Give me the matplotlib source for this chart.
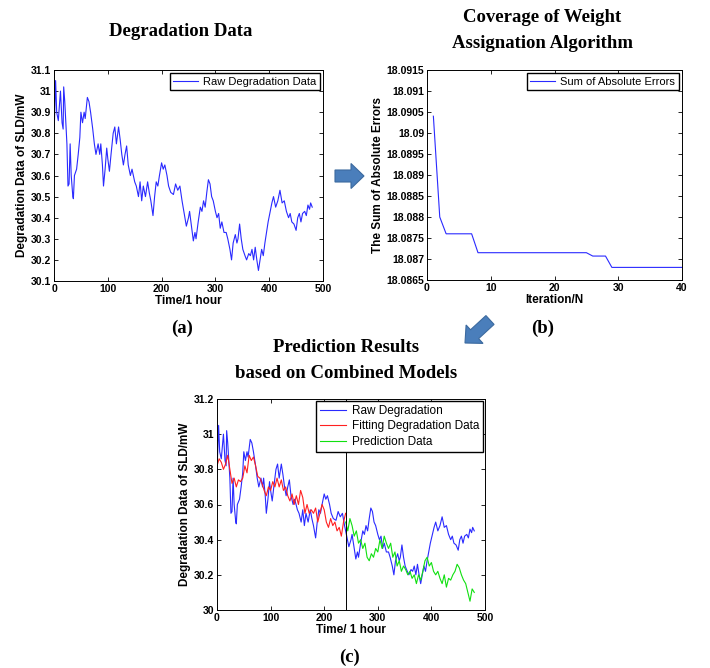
import numpy as np
import matplotlib
matplotlib.use("Agg")
import matplotlib.pyplot as plt
from matplotlib.patches import FancyArrow
from matplotlib.ticker import FuncFormatter

# raw SLD degradation, hours / mW
raw_hours = [0, 3, 5, 8, 12, 15, 17, 18, 20, 24,
             26, 28, 30, 32, 35, 36, 38, 42, 45, 48,
             50, 53, 56, 58, 62, 65, 68, 72, 75, 78,
             82, 85, 87, 90, 92, 95, 98, 100, 103, 106,
             110, 113, 116, 120, 123, 126, 129, 132, 135, 138,
             142, 145, 150, 153, 157, 160, 163, 166, 170, 174,
             177, 180, 184, 187, 190, 193, 196, 200, 203, 206,
             210, 213, 217, 222, 226, 230, 234, 238, 242, 246,
             250, 252, 256, 259, 262, 264, 268, 272, 275, 278,
             281, 284, 287, 290, 293, 296, 300, 303, 306, 309,
             312, 316, 320, 323, 327, 330, 333, 337, 340, 342,
             345, 348, 351, 355, 358, 362, 365, 368, 371, 374,
             377, 380, 383, 386, 389, 392, 395, 398, 402, 405,
             408, 412, 416, 420, 424, 428, 432, 436, 439, 442,
             446, 450, 453, 456, 459, 462, 466, 469, 472, 475,
             477, 480]
raw_power = [30.78, 31.05, 30.90, 30.86, 31.00, 30.85, 30.82, 31.02, 30.95, 30.75,
             30.55, 30.56, 30.75, 30.60, 30.50, 30.49, 30.60, 30.63, 30.70, 30.78,
             30.90, 30.85, 30.90, 30.87, 30.97, 30.95, 30.90, 30.82, 30.75, 30.70,
             30.75, 30.70, 30.75, 30.65, 30.55, 30.63, 30.73, 30.68, 30.62, 30.70,
             30.80, 30.83, 30.75, 30.83, 30.77, 30.70, 30.65, 30.70, 30.74, 30.65,
             30.60, 30.63, 30.57, 30.55, 30.50, 30.57, 30.48, 30.55, 30.50, 30.57,
             30.52, 30.48, 30.41, 30.50, 30.57, 30.55, 30.60, 30.66, 30.63, 30.65,
             30.60, 30.55, 30.52, 30.51, 30.56, 30.53, 30.55, 30.48, 30.42, 30.36,
             30.40, 30.43, 30.35, 30.29, 30.33, 30.30, 30.38, 30.45, 30.43, 30.48,
             30.45, 30.52, 30.58, 30.56, 30.50, 30.48, 30.43, 30.40, 30.42, 30.35,
             30.38, 30.33, 30.33, 30.30, 30.25, 30.20, 30.28, 30.32, 30.28, 30.30,
             30.37, 30.30, 30.25, 30.22, 30.20, 30.23, 30.22, 30.25, 30.20, 30.26,
             30.20, 30.15, 30.20, 30.25, 30.22, 30.28, 30.33, 30.38, 30.43, 30.47,
             30.50, 30.45, 30.48, 30.53, 30.47, 30.48, 30.43, 30.40, 30.42, 30.38,
             30.37, 30.34, 30.40, 30.42, 30.38, 30.42, 30.43, 30.41, 30.46, 30.44,
             30.47, 30.45]

# fitted data, every 4 h from 0 h
fit_power = [30.82, 30.86, 30.84, 30.80, 30.83, 30.88, 30.80, 30.72, 30.75, 30.70,
             30.74, 30.73, 30.75, 30.82, 30.78, 30.88, 30.85, 30.87, 30.82, 30.76,
             30.75, 30.72, 30.68, 30.65, 30.70, 30.68, 30.73, 30.70, 30.75, 30.70,
             30.74, 30.68, 30.70, 30.65, 30.62, 30.66, 30.60, 30.65, 30.60, 30.68,
             30.64, 30.55, 30.60, 30.55, 30.57, 30.55, 30.58, 30.50, 30.55, 30.60,
             30.57, 30.50, 30.47, 30.52, 30.48, 30.50, 30.45, 30.47, 30.42, 30.50,
             30.55]
# prediction, every 4 h from 240 h
pred_power = [30.50, 30.45, 30.52, 30.48, 30.42, 30.45, 30.38, 30.40, 30.35, 30.38,
              30.30, 30.28, 30.32, 30.30, 30.35, 30.33, 30.40, 30.35, 30.42, 30.38,
              30.35, 30.38, 30.30, 30.33, 30.25, 30.28, 30.22, 30.25, 30.23, 30.20,
              30.22, 30.18, 30.20, 30.15, 30.20, 30.17, 30.22, 30.28, 30.30, 30.25,
              30.27, 30.22, 30.20, 30.22, 30.18, 30.15, 30.20, 30.13, 30.18, 30.17,
              30.20, 30.22, 30.26, 30.24, 30.20, 30.17, 30.15, 30.10, 30.05, 30.12,
              30.10]
split_hour = 240

iterations = list(range(1, 41))
sae = [18.0904, 18.0880, 18.0876, 18.0876, 18.0876, 18.0876, 18.0876, 18.08715,
       18.08715, 18.08715, 18.08715, 18.08715, 18.08715, 18.08715, 18.08715, 18.08715,
       18.08715, 18.08715, 18.08715, 18.08715, 18.08715, 18.08715, 18.08715, 18.08715,
       18.08715, 18.08707, 18.08707, 18.08707, 18.0868, 18.0868, 18.0868, 18.0868,
       18.0868, 18.0868, 18.0868, 18.0868, 18.0868, 18.0868, 18.0868, 18.0868]

fit_hours = 4 * np.arange(len(fit_power))
pred_hours = split_hour + 4 * np.arange(len(pred_power))

plt.rcParams['font.family'] = ['Liberation Sans', 'DejaVu Sans']
W, H = 710, 668
fig = plt.figure(figsize=(W / 100, H / 100), dpi=100)

def px_axes(x0, y0, x1, y1):
    return fig.add_axes([x0 / W, 1 - y1 / H, (x1 - x0) / W, (y1 - y0) / H])

def style(ax, xlabel, ylabel):
    ax.tick_params(direction='in', top=True, right=True, length=3, width=0.6,
                   labelsize=7.5, pad=2)
    for lbl in ax.get_xticklabels() + ax.get_yticklabels():
        lbl.set_fontweight('bold')
    for s in ax.spines.values():
        s.set_linewidth(0.7)
    ax.set_xlabel(xlabel, fontsize=8.5, fontweight='bold', labelpad=1)
    ax.set_ylabel(ylabel, fontsize=8.5, fontweight='bold', labelpad=2)

fmt = FuncFormatter(lambda v, p: '%g' % round(v, 6))
blue = '#2a2aff'
leg_kw = dict(loc='upper right', fancybox=False, edgecolor='black', framealpha=1,
              handlelength=2.2, borderpad=0.3, handletextpad=0.5)

# (a)
ax1 = px_axes(54, 70, 323, 281)
ax1.plot(raw_hours, raw_power, color=blue, lw=0.8, label='Raw Degradation Data')
ax1.set_xlim(0, 500)
ax1.set_ylim(30.1, 31.1)
ax1.set_yticks(np.arange(30.1, 31.15, 0.1))
ax1.yaxis.set_major_formatter(fmt)
style(ax1, 'Time/1 hour', 'Degradation Data of SLD/mW')
ax1.legend(fontsize=8, borderaxespad=0.3, **leg_kw)

# (b)
ax2 = px_axes(427, 70, 682, 280)
ax2.plot(iterations, sae, color=blue, lw=0.8, label='Sum of Absolute Errors')
ax2.set_xlim(0, 40)
ax2.set_xticks([0, 10, 20, 30, 40])
ax2.set_ylim(18.0865, 18.0915)
ax2.set_yticks(np.arange(18.0865, 18.09151, 0.0005))
ax2.yaxis.set_major_formatter(fmt)
style(ax2, 'Iteration/N', 'The Sum of Absolute Errors')
ax2.legend(fontsize=8, borderaxespad=0.3, **leg_kw)

# (c)
ax3 = px_axes(217, 399, 485, 610)
ax3.plot(raw_hours, raw_power, color=blue, lw=0.8, label='Raw Degradation')
ax3.plot(fit_hours, fit_power, color='#ff2020', lw=0.8, label='Fitting Degradation Data')
ax3.plot(pred_hours, pred_power, color='#10e010', lw=0.8, label='Prediction Data')
ax3.axvline(split_hour, color='black', lw=0.7)
ax3.set_xlim(0, 500)
ax3.set_ylim(30, 31.2)
ax3.set_yticks(np.arange(30, 31.25, 0.2))
ax3.yaxis.set_major_formatter(fmt)
style(ax3, 'Time/ 1 hour', 'Degradation Data of SLD/mW')
ax3.legend(fontsize=8.5, borderaxespad=0.2, labelspacing=0.3, **leg_kw)

# titles and panel letters
serif = dict(family='Liberation Serif', fontweight='bold', ha='center', va='center')
fig.text(181 / W, 1 - 31 / H, 'Degradation Data', fontsize=13.5, **serif)
fig.text(542 / W, 1 - 18 / H, 'Coverage of Weight', fontsize=13.5, **serif)
fig.text(542 / W, 1 - 44 / H, 'Assignation Algorithm', fontsize=13.5, **serif)
fig.text(346 / W, 1 - 348 / H, 'Prediction Results', fontsize=13.5, **serif)
fig.text(346 / W, 1 - 373 / H, 'based on Combined Models', fontsize=13.5, **serif)
fig.text(182 / W, 1 - 328 / H, '(a)', fontsize=13.5, **serif)
fig.text(543 / W, 1 - 328 / H, '(b)', fontsize=13.5, **serif)
fig.text(350 / W, 1 - 657 / H, '(c)', fontsize=13.5, **serif)

# block arrows (pixel coords -> inches)
def block_arrow(x0, y0, x1, y1):
    a = FancyArrow(x0 / 100, (H - y0) / 100, (x1 - x0) / 100, (y0 - y1) / 100,
                   width=0.12, head_width=0.25, head_length=0.13,
                   length_includes_head=True, transform=fig.dpi_scale_trans,
                   fc='#4a7ebb', ec='#3c6a9f', lw=0.8)
    fig.add_artist(a)

block_arrow(335, 176, 364, 176)
block_arrow(490, 320, 465, 343)

fig.savefig('out.png', dpi=100)
